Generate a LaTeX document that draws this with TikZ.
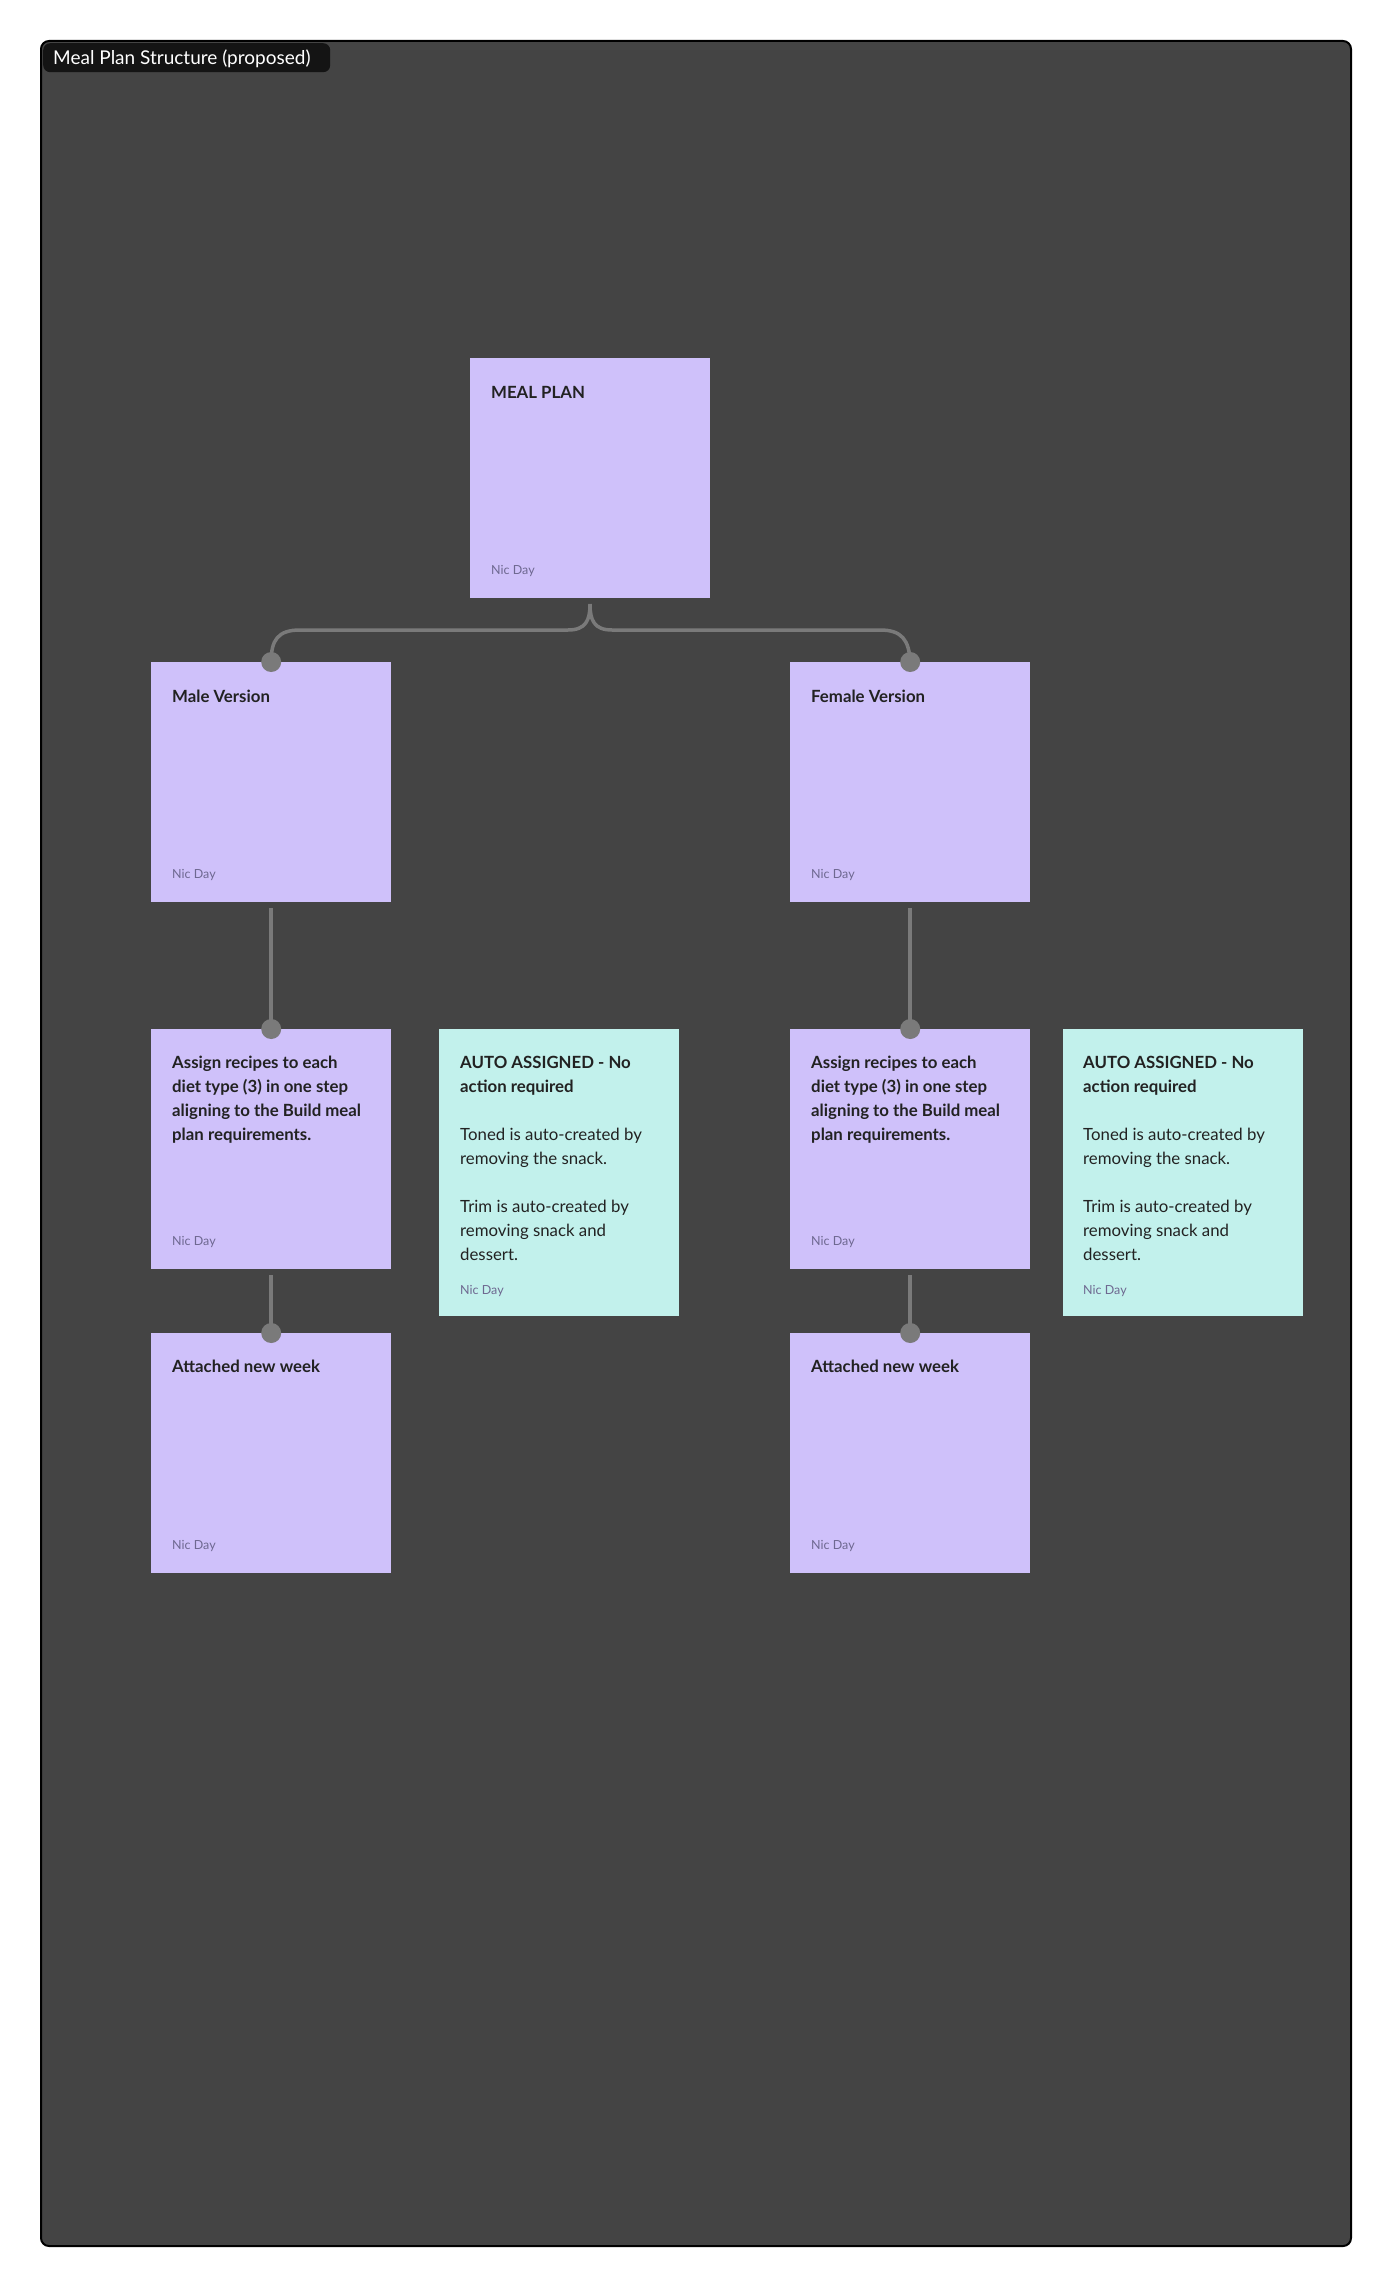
\documentclass[tikz,border=0pt]{standalone}
\usepackage{fontspec}
\setmainfont{Lato}
\definecolor{frame}{HTML}{444444}
\definecolor{lav}{HTML}{CFC1FA}
\definecolor{cyan}{HTML}{C2F1EC}
\definecolor{conn}{HTML}{7A7A7A}
\definecolor{ink}{HTML}{222222}
\definecolor{meta}{HTML}{6E6890}
\begin{document}
\begin{tikzpicture}[x=1pt,y=-1pt,
  sticky/.style={anchor=north west,minimum width=240pt,minimum height=240pt,inner sep=0pt,fill=lav},
  head/.style={anchor=north west,align=left,inner sep=0pt,text=ink,font=\fontsize{16.8}{24}\selectfont\bfseries},
  body/.style={anchor=north west,align=left,inner sep=0pt,text=ink,font=\fontsize{16.8}{24}\selectfont},
  meta/.style={anchor=west,inner sep=0pt,text=meta,font=\fontsize{12.5}{13}\selectfont},
  link/.style={draw=conn,line width=3.5pt},
  dot/.style={circle,fill=conn,minimum size=20pt,inner sep=0pt}]
\useasboundingbox (0,0) rectangle (1392,2288);
\fill[white] (0,0) rectangle (1392,2288);
\draw[fill=frame,draw=black,line width=2pt,rounded corners=8pt] (41,41) rectangle (1351,2246);
\node[fill=black!92,rounded corners=7pt,anchor=north west,minimum width=287pt,minimum height=29pt,inner sep=0pt] (tag) at (43,43) {};
\node[anchor=west,text=white,inner sep=0pt,font=\fontsize{19}{20}\selectfont] (tagt) at (53,59) {Meal Plan Structure (proposed)};

% boxes
\node[sticky] (mp) at (470,358) {};
\node[sticky] (mv) at (151,662) {};
\node[sticky] (fv) at (790,662) {};
\node[sticky] (am) at (151,1029) {};
\node[sticky] (af) at (790,1029) {};
\node[sticky,fill=cyan,minimum height=287pt] (cm) at (439,1029) {};
\node[sticky,fill=cyan,minimum height=287pt] (cf) at (1063,1029) {};
\node[sticky] (wm) at (151,1333) {};
\node[sticky] (wf) at (790,1333) {};

% texts
\node[head] (t1) at (491,386) {MEAL PLAN};
\node[meta] (m1) at (491,571) {Nic Day};
\node[head] (t2) at (172,690) {Male Version};
\node[meta] (m2) at (172,875) {Nic Day};
\node[head] (t3) at (811,690) {Female Version};
\node[meta] (m3) at (811,875) {Nic Day};
\node[head] (t4) at (172,1056) {Assign recipes to each\\diet type (3) in one step\\aligning to the Build meal\\plan requirements.};
\node[meta] (m4) at (172,1242) {Nic Day};
\node[head] (t5) at (811,1056) {Assign recipes to each\\diet type (3) in one step\\aligning to the Build meal\\plan requirements.};
\node[meta] (m5) at (811,1242) {Nic Day};
\node[body] (t6) at (460,1056) {\textbf{AUTO ASSIGNED - No}\\\textbf{action required}\\[24pt]Toned is auto-created by\\removing the snack.\\[24pt]Trim is auto-created by\\removing snack and\\dessert.};
\node[meta] (m6) at (460,1291) {Nic Day};
\node[body] (t7) at (1083,1056) {\textbf{AUTO ASSIGNED - No}\\\textbf{action required}\\[24pt]Toned is auto-created by\\removing the snack.\\[24pt]Trim is auto-created by\\removing snack and\\dessert.};
\node[meta] (m7) at (1083,1291) {Nic Day};
\node[head] (t8) at (172,1360) {Attached new week};
\node[meta] (m8) at (172,1546) {Nic Day};
\node[head] (t9) at (811,1360) {Attached new week};
\node[meta] (m9) at (811,1546) {Nic Day};

% dots
\node[dot] (d1) at (mv.north) {};
\node[dot] (d2) at (fv.north) {};
\node[dot] (d3) at (am.north) {};
\node[dot] (d4) at (af.north) {};
\node[dot] (d5) at (wm.north) {};
\node[dot] (d6) at (wf.north) {};

% connectors
\coordinate (s) at (590,604);
\draw[link] (s) .. controls (590,620) and (586,630) .. (568,630) -- (300,630) .. controls (278,630) and (271,640) .. (d1.center);
\draw[link] (s) .. controls (590,620) and (594,630) .. (612,630) -- (880,630) .. controls (902,630) and (909,640) .. (d2.center);
\draw[link] ([shift={(0,6)}]mv.south) -- (d3.center);
\draw[link] ([shift={(0,6)}]fv.south) -- (d4.center);
\draw[link] ([shift={(0,6)}]am.south) -- (d5.center);
\draw[link] ([shift={(0,6)}]af.south) -- (d6.center);
\end{tikzpicture}
\end{document}
